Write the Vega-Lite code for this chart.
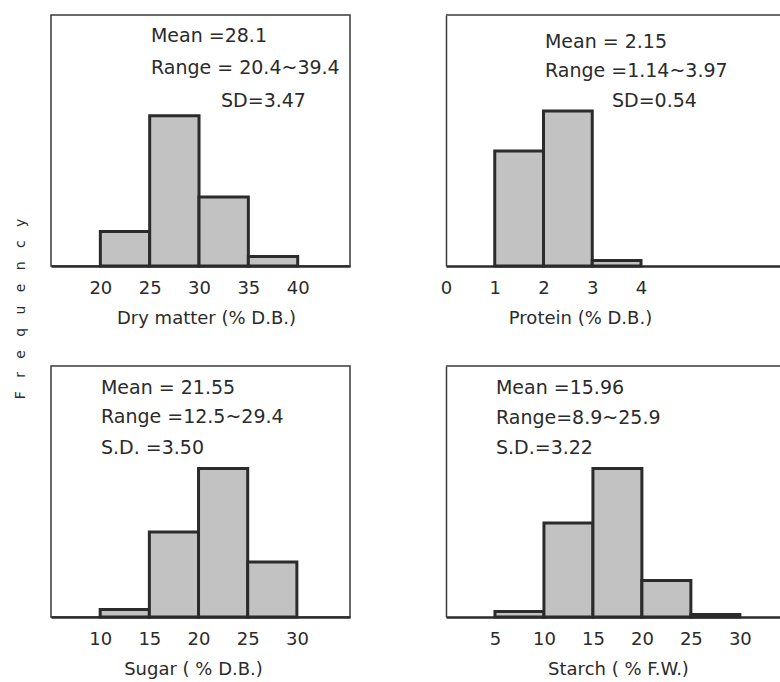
{
  "$schema": "https://vega.github.io/schema/vega-lite/v6.json",
  "padding": {"left": 12, "top": 14, "right": 0, "bottom": 0},
  "background": "white",
  "config": {
    "font": "DejaVu Sans",
    "view": {"stroke": "#3a3a3a", "strokeWidth": 1.5},
    "axis": {
      "grid": false, "ticks": false,
      "labelFont": "DejaVu Sans", "labelFontSize": 18, "labelColor": "#2b2b2b",
      "titleFont": "DejaVu Sans", "titleFontSize": 18, "titleFontWeight": "normal", "titleColor": "#2b2b2b",
      "domainColor": "#2b2b2b"
    },
    "axisX": {"domainWidth": 2.5, "labelPadding": 13, "titlePadding": 12, "labelFlush": false, "labelOverlap": false},
    "text": {"font": "DejaVu Sans", "fontSize": 19, "color": "#2b2b2b", "align": "left", "baseline": "alphabetic"},
    "rect": {"fill": "#c2c2c2", "stroke": "#2b2b2b", "strokeWidth": 3}
  },
  "datasets": {
    "dry": [
      {"bin_start": 20, "bin_end": 25, "frequency": 13.7},
      {"bin_start": 25, "bin_end": 30, "frequency": 59.9},
      {"bin_start": 30, "bin_end": 35, "frequency": 27.5},
      {"bin_start": 35, "bin_end": 40, "frequency": 3.8}
    ],
    "protein": [
      {"bin_start": 1, "bin_end": 2, "frequency": 45.8},
      {"bin_start": 2, "bin_end": 3, "frequency": 61.8},
      {"bin_start": 3, "bin_end": 4, "frequency": 2.2}
    ],
    "sugar": [
      {"bin_start": 10, "bin_end": 15, "frequency": 3.0},
      {"bin_start": 15, "bin_end": 20, "frequency": 33.9},
      {"bin_start": 20, "bin_end": 25, "frequency": 59.2},
      {"bin_start": 25, "bin_end": 30, "frequency": 21.9}
    ],
    "starch": [
      {"bin_start": 5, "bin_end": 10, "frequency": 2.2},
      {"bin_start": 10, "bin_end": 15, "frequency": 37.5},
      {"bin_start": 15, "bin_end": 20, "frequency": 59.2},
      {"bin_start": 20, "bin_end": 25, "frequency": 14.5},
      {"bin_start": 25, "bin_end": 30, "frequency": 1.0}
    ]
  },
  "columns": 2,
  "bounds": "flush",
  "spacing": {"row": 100, "column": 96},
  "concat": [
    {
      "width": 299, "height": 251,
      "layer": [
        {
          "data": {"name": "dry"},
          "mark": "rect",
          "encoding": {
            "x": {"field": "bin_start", "type": "quantitative",
                  "scale": {"domain": [15, 45.3], "nice": false, "zero": false},
                  "axis": {"values": [20, 25, 30, 35, 40], "format": "d", "title": "Dry matter (% D.B.)", "titleX": 155}},
            "x2": {"field": "bin_end"},
            "y": {"field": "frequency", "type": "quantitative",
                  "scale": {"domain": [0, 100], "nice": false},
                  "axis": {"labels": false, "domain": false, "title": "F\u00a0\u00a0\u00a0r\u00a0\u00a0\u00a0e\u00a0\u00a0\u00a0q\u00a0\u00a0\u00a0u\u00a0\u00a0\u00a0e\u00a0\u00a0\u00a0n\u00a0\u00a0\u00a0c\u00a0\u00a0\u00a0y",
                           "titleFontSize": 14, "titleColor": "#2b2b2b", "titleX": -27, "titleY": 293.5, "titleAngle": 270, "titleAlign": "center", "titleBaseline": "alphabetic"}},
            "y2": {"datum": 0}
          }
        },
        {"data": {"values": [{"label": "Mean =28.1"}]}, "mark": "text",
         "encoding": {"x": {"datum": 25.13}, "y": {"datum": 89.4}, "text": {"field": "label"}}},
        {"data": {"values": [{"label": "Range = 20.4~39.4"}]}, "mark": "text",
         "encoding": {"x": {"datum": 25.13}, "y": {"datum": 76.4}, "text": {"field": "label"}}},
        {"data": {"values": [{"label": "SD=3.47"}]}, "mark": "text",
         "encoding": {"x": {"datum": 32.23}, "y": {"datum": 63.35}, "text": {"field": "label"}}}
      ]
    },
    {
      "width": 334, "height": 251,
      "view": {"stroke": null},
      "layer": [
        {
          "data": {"name": "protein"},
          "mark": "rect",
          "encoding": {
            "x": {"field": "bin_start", "type": "quantitative",
                  "scale": {"domain": [0, 6.851], "nice": false, "zero": false},
                  "axis": {"values": [0, 1, 2, 3, 4], "format": "d", "title": "Protein (% D.B.)", "titleX": 134}},
            "x2": {"field": "bin_end"},
            "y": {"field": "frequency", "type": "quantitative",
                  "scale": {"domain": [0, 100], "nice": false},
                  "axis": {"labels": false, "domain": true, "domainWidth": 1.5, "domainColor": "#3a3a3a", "title": null}},
            "y2": {"datum": 0}
          }
        },
        {"mark": {"type": "rule", "stroke": "#3a3a3a", "strokeWidth": 1.5},
         "data": {"values": [{}]},
         "encoding": {"y": {"datum": 100}}},
        {"data": {"values": [{"label": "Mean = 2.15"}]}, "mark": "text",
         "encoding": {"x": {"datum": 2.03}, "y": {"datum": 87.0}, "text": {"field": "label"}}},
        {"data": {"values": [{"label": "Range =1.14~3.97"}]}, "mark": "text",
         "encoding": {"x": {"datum": 2.03}, "y": {"datum": 75.3}, "text": {"field": "label"}}},
        {"data": {"values": [{"label": "SD=0.54"}]}, "mark": "text",
         "encoding": {"x": {"datum": 3.405}, "y": {"datum": 63.35}, "text": {"field": "label"}}}
      ]
    },
    {
      "width": 299, "height": 251,
      "layer": [
        {
          "data": {"name": "sugar"},
          "mark": "rect",
          "encoding": {
            "x": {"field": "bin_start", "type": "quantitative",
                  "scale": {"domain": [5, 35.4], "nice": false, "zero": false},
                  "axis": {"values": [10, 15, 20, 25, 30], "format": "d", "title": "Sugar ( % D.B.)", "titleX": 142}},
            "x2": {"field": "bin_end"},
            "y": {"field": "frequency", "type": "quantitative",
                  "scale": {"domain": [0, 100], "nice": false},
                  "axis": {"labels": false, "domain": false, "title": null}},
            "y2": {"datum": 0}
          }
        },
        {"data": {"values": [{"label": "Mean = 21.55"}]}, "mark": "text",
         "encoding": {"x": {"datum": 10.08}, "y": {"datum": 88.7}, "text": {"field": "label"}}},
        {"data": {"values": [{"label": "Range =12.5~29.4"}]}, "mark": "text",
         "encoding": {"x": {"datum": 10.08}, "y": {"datum": 77.4}, "text": {"field": "label"}}},
        {"data": {"values": [{"label": "S.D. =3.50"}]}, "mark": "text",
         "encoding": {"x": {"datum": 10.08}, "y": {"datum": 64.8}, "text": {"field": "label"}}}
      ]
    },
    {
      "width": 334, "height": 251,
      "view": {"stroke": null},
      "layer": [
        {
          "data": {"name": "starch"},
          "mark": "rect",
          "encoding": {
            "x": {"field": "bin_start", "type": "quantitative",
                  "scale": {"domain": [0, 34.1], "nice": false, "zero": false},
                  "axis": {"values": [5, 10, 15, 20, 25, 30], "format": "d", "title": "Starch ( % F.W.)", "titleX": 172}},
            "x2": {"field": "bin_end"},
            "y": {"field": "frequency", "type": "quantitative",
                  "scale": {"domain": [0, 100], "nice": false},
                  "axis": {"labels": false, "domain": true, "domainWidth": 1.5, "domainColor": "#3a3a3a", "title": null}},
            "y2": {"datum": 0}
          }
        },
        {"mark": {"type": "rule", "stroke": "#3a3a3a", "strokeWidth": 1.5},
         "data": {"values": [{}]},
         "encoding": {"y": {"datum": 100}}},
        {"data": {"values": [{"label": "Mean =15.96"}]}, "mark": "text",
         "encoding": {"x": {"datum": 5.1}, "y": {"datum": 88.7}, "text": {"field": "label"}}},
        {"data": {"values": [{"label": "Range=8.9~25.9"}]}, "mark": "text",
         "encoding": {"x": {"datum": 5.1}, "y": {"datum": 77.0}, "text": {"field": "label"}}},
        {"data": {"values": [{"label": "S.D.=3.22"}]}, "mark": "text",
         "encoding": {"x": {"datum": 5.1}, "y": {"datum": 64.8}, "text": {"field": "label"}}}
      ]
    }
  ]
}
